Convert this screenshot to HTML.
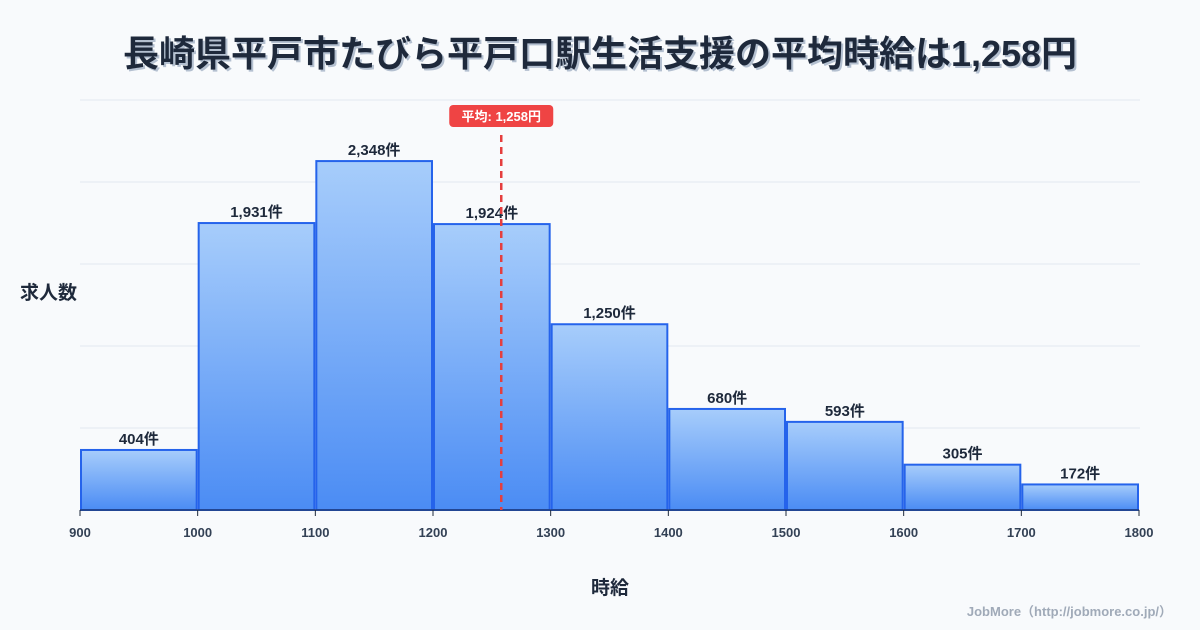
<!DOCTYPE html>
<html><head><meta charset="utf-8"><style>
html,body{margin:0;padding:0;background:#f8fafc;}
svg{display:block;font-family:"Liberation Sans","Noto Sans CJK JP",sans-serif;}
</style></head><body>
<svg id="c" width="1200" height="630" viewBox="0 0 1200 630">
<defs>
<linearGradient id="g" x1="0" y1="0" x2="0" y2="1">
<stop offset="0" stop-color="#a7cdfb"/><stop offset="1" stop-color="#4b8cf4"/>
</linearGradient>
</defs>
<rect width="1200" height="630" fill="#f8fafc"/>
<text x="602" y="68" text-anchor="middle" font-size="36" font-weight="bold" fill="#b4c0d0">長崎県平戸市たびら平戸口駅生活支援の平均時給は1,258円</text>
<text x="600" y="66" text-anchor="middle" font-size="36" font-weight="bold" fill="#1e293b">長崎県平戸市たびら平戸口駅生活支援の平均時給は1,258円</text>
<g id="grid"></g>
<g id="bars"></g>
<g id="xt"></g>
<text x="20" y="299" font-size="19" font-weight="bold" fill="#1e293b">求人数</text>
<text x="610" y="594" text-anchor="middle" font-size="19" font-weight="bold" fill="#1e293b">時給</text>
<text x="1172" y="616" text-anchor="end" font-size="13" font-weight="bold" fill="#a0aab8">JobMore（http://jobmore.co.jp/）</text>
<g id="mean"></g>
</svg>
<script>
const binStarts=[900,1000,1100,1200,1300,1400,1500,1600,1700];
const counts=[404,1931,2348,1924,1250,680,593,305,172];
const xTicks=[900,1000,1100,1200,1300,1400,1500,1600,1700,1800];
const meanValue=1258;
const binWidth=100;
const NS="http://www.w3.org/2000/svg";
const X0=80,X1=1139,Y0=510,Y1=100,xMin=900,xMax=1800,yMax=2759;
const x=v=>X0+(v-xMin)/(xMax-xMin)*(X1-X0);
const y=v=>Y0-v/yMax*(Y0-Y1);
function mk(t,a,p){const e=document.createElementNS(NS,t);for(const k in a)e.setAttribute(k,a[k]);p.appendChild(e);return e;}
const grid=document.getElementById('grid');
for(let i=0;i<=5;i++){const gy=Y0-i*(Y0-Y1)/5;
const l=mk('line',{x1:X0,x2:1140,y1:gy,y2:gy,stroke:'#e2e8f0','stroke-width':1},grid);

}
const bars=document.getElementById('bars');
binStarts.forEach((b,i)=>{
const xa=x(b)+1,xb=x(b+binWidth)-1,top=y(counts[i]);
const r=mk('rect',{x:xa,y:top,width:xb-xa,height:Y0-top,fill:'url(#g)',stroke:'#2563eb','stroke-width':2},bars);


const t=mk('text',{x:(xa+xb)/2,y:top-6,'text-anchor':'middle','font-size':15,'font-weight':'bold',fill:'#1e293b'},bars);
t.textContent=counts[i].toLocaleString('en-US')+'件';


});
const xt=document.getElementById('xt');
xTicks.forEach(v=>{
const l=mk('line',{x1:x(v),x2:x(v),y1:Y0,y2:Y0+6,stroke:'#1e293b','stroke-width':1},xt);


const t=mk('text',{x:x(v),y:537,'text-anchor':'middle','font-size':13,'font-weight':'bold',fill:'#334155'},xt);
t.textContent=v;


});
const ax=mk('line',{x1:X0,x2:X1,y1:Y0,y2:Y0,stroke:'#1e293b','stroke-width':1},xt);


const m=document.getElementById('mean');
const mx=x(meanValue);
const ml=mk('line',{x1:mx,x2:mx,y1:135,y2:Y0,stroke:'#e53e3e','stroke-width':2.5,'stroke-dasharray':'7,5'},m);


const mb=mk('rect',{x:mx-52,y:105,width:104,height:22,rx:4,fill:'#ef4444'},m);


const mt=mk('text',{x:mx,y:121,'text-anchor':'middle','font-size':13,'font-weight':'bold',fill:'#fff'},m);
mt.textContent='平均: '+meanValue.toLocaleString('en-US')+'円';


</script>
</body></html>
